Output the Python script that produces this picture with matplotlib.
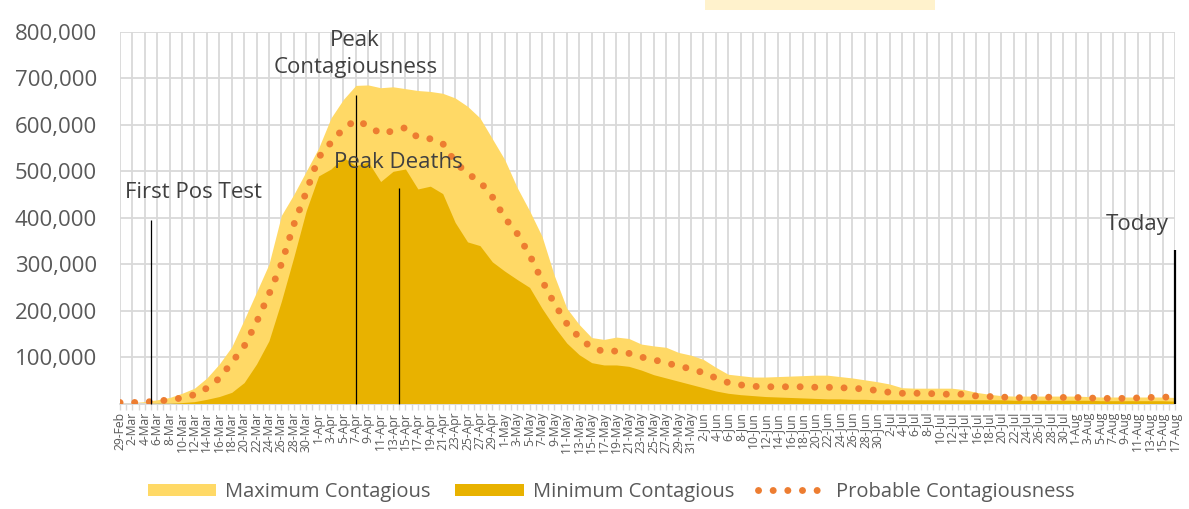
#!/usr/bin/env python3
"""Contagious population estimate: max / min band with probable line."""
import numpy as np
import pandas as pd
import matplotlib
matplotlib.use('Agg')
import matplotlib.pyplot as plt
from matplotlib.patches import Patch, Rectangle
from matplotlib.lines import Line2D
from matplotlib.ticker import FuncFormatter, MultipleLocator

# Every second day from 29-Feb to 17-Aug (2020)
dates = pd.date_range('2020-02-29', '2020-08-17', freq='2D')

# Values in thousands
max_contagious = [
    2, 2, 4, 8, 13, 22, 33, 55, 85, 122, 180, 240, 300, 405, 450, 500, 550, 615,
    655, 685, 686, 680, 682, 678, 674, 672, 668, 658, 640, 615, 570, 525, 465,
    415, 360, 275, 205, 170, 142, 138, 143, 140, 128, 124, 121, 110, 104, 95,
    78, 63, 60, 57, 57, 58, 59, 60, 61, 61, 58, 55, 51, 47, 42, 34, 33, 33, 33,
    33, 30, 24, 20, 17, 16, 16, 16, 16, 16, 16, 15, 14, 14, 14, 14, 14, 14, 13,
]
min_contagious = [
    0, 0, 0, 1, 1, 2, 4, 9, 15, 24, 45, 85, 135, 220, 315, 415, 490, 505, 530,
    512, 520, 478, 500, 505, 462, 468, 452, 390, 348, 340, 305, 285, 267, 250,
    205, 165, 130, 105, 88, 83, 83, 80, 72, 62, 55, 48, 41, 34, 27, 22, 19, 17,
    15, 14, 13, 12, 11, 10, 10, 9, 9, 8, 8, 8, 8, 8, 8, 8, 8, 8, 8, 8, 7, 7, 7,
    7, 7, 7, 7, 6, 6, 6, 6, 6, 6, 5,
]
probable = [
    2, 2, 3, 5, 8, 12, 19, 33, 54, 88, 123, 175, 235, 300, 385, 455, 530, 562,
    592, 610, 598, 581, 587, 594, 573, 570, 560, 520, 495, 478, 445, 400, 366,
    320, 265, 215, 172, 142, 120, 112, 113, 108, 100, 94, 88, 80, 75, 66, 55,
    45, 40, 37, 36, 36, 36, 36, 35, 35, 34, 33, 31, 28, 24, 22, 22, 22, 20, 20,
    20, 16, 15, 14, 12.5, 12.5, 13.5, 13.5, 13, 13, 12, 11, 11, 11, 12, 13, 14, 13,
]

# Event markers: date, label, line top (thousands)
event_dates = ['2020-03-05', '2020-04-07', '2020-04-14', '2020-08-17']
event_labels = ['First Pos Test', 'Peak\nContagiousness', 'Peak Deaths', 'Today']
event_tops = [395, 665, 464, 331]

MAX_COLOR = '#FFD966'
MIN_COLOR = '#E8B200'
DOT_COLOR = '#ED7D31'
GRID_COLOR = '#D9D9D9'
TEXT_COLOR = '#404040'
TICK_COLOR = '#595959'

plt.rcParams['font.family'] = ['Open Sans', 'DejaVu Sans']

start = dates[0]
x = np.array([(d - start).days for d in dates])
ymax = np.array(max_contagious) * 1000
ymin = np.array(min_contagious) * 1000
yprob = np.array(probable) * 1000

fig = plt.figure(figsize=(11.89, 5.09), dpi=100)
ax = fig.add_axes([120 / 1189, 1 - 403.5 / 509, 1055 / 1189, 371.5 / 509])

ax.fill_between(x, 0, ymax, color=MAX_COLOR, linewidth=0, zorder=2)
ax.fill_between(x, 0, ymin, color=MIN_COLOR, linewidth=0, zorder=3)
dot_style = dict(color=DOT_COLOR, linewidth=5, linestyle=(0, (0.01, 2.1)),
                 dash_capstyle='round')
ax.plot(x, yprob, zorder=4, **dot_style)

# Event lines and labels
text_pos = {
    'First Pos Test': (11.8, 454000),
    'Peak\nContagiousness': (37.9, 752000),
    'Peak Deaths': (44.8, 520000),
    'Today': (163.9, 385000),
}
for d, label, top in zip(event_dates, event_labels, event_tops):
    ex = (pd.Timestamp(d) - start).days
    lw = 1.6 if label == 'Today' else 0.9
    ax.vlines(ex, 0, top * 1000, color='black', linewidth=lw, zorder=5, clip_on=False)
    tx, ty = text_pos[label]
    ax.text(tx, ty, label, ha='center', va='center', fontsize=16,
            color=TEXT_COLOR, linespacing=1.4, zorder=6)

ax.set_xlim(0, x[-1])
ax.set_ylim(0, 800000)

ax.set_xticks(x)
ax.set_xticklabels([f"{d.day}-{d.strftime('%b')}" for d in dates],
                   rotation=90, fontsize=8.7, color=TICK_COLOR)
ax.xaxis.set_minor_locator(MultipleLocator(1))
ax.tick_params(axis='x', which='both', length=4, color=GRID_COLOR, width=1, pad=2)

ax.yaxis.set_major_locator(MultipleLocator(100000))
ax.yaxis.set_major_formatter(FuncFormatter(lambda v, p: '' if v == 0 else f'{v:,.0f}'))
ax.tick_params(axis='y', length=0, labelsize=16, labelcolor=TICK_COLOR, pad=16.5)

ax.grid(True, which='major', color=GRID_COLOR, linewidth=1.3, zorder=0)
ax.set_axisbelow(True)
for side in ['top', 'right', 'left']:
    ax.spines[side].set_visible(False)
ax.spines['bottom'].set_color(GRID_COLOR)
ax.spines['bottom'].set_linewidth(1.3)

handles = [
    Patch(facecolor=MAX_COLOR, label='Maximum Contagious'),
    Patch(facecolor=MIN_COLOR, label='Minimum Contagious'),
    Line2D([], [], label='Probable Contagiousness', **dot_style),
]
fig.legend(handles=handles, loc='center', bbox_to_anchor=(0.514, 0.033), ncol=3,
           frameon=False, fontsize=14.5, handlelength=3.4, handleheight=0.6,
           handletextpad=0.45, columnspacing=1.2, labelcolor=TICK_COLOR)

# Cropped title box remnant at the top
fig.patches.append(Rectangle((705 / 1189, 1 - 10 / 509), 230 / 1189, 10 / 509,
                             transform=fig.transFigure, facecolor='#FFF2CC',
                             edgecolor='none'))

fig.savefig('out.png', dpi=100, facecolor='white')
